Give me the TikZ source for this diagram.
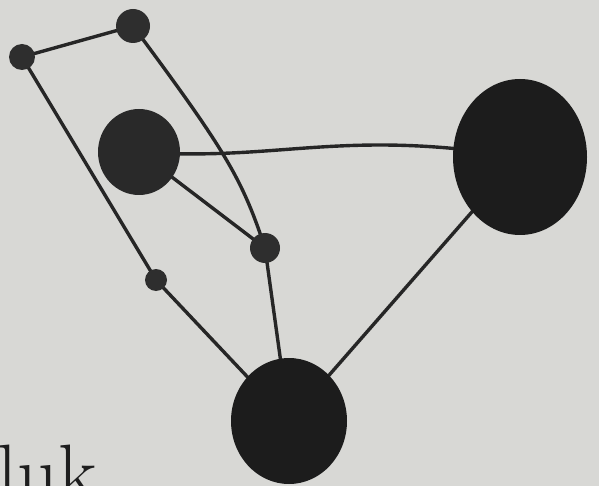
\documentclass[tikz,border=0pt]{standalone}
\usetikzlibrary{shapes.geometric}
\pgfdeclarelayer{paperlayer}
\pgfdeclarelayer{edgelayer}
\pgfsetlayers{paperlayer,edgelayer,main}
\definecolor{paper}{HTML}{D8D8D5}
\definecolor{nodegray}{HTML}{2E2E2E}
\definecolor{darknode}{HTML}{1C1C1C}
\definecolor{linegray}{HTML}{262626}
\definecolor{inkgray}{HTML}{1E1E1E}
\begin{document}
\begin{tikzpicture}[x=1pt,y=-1pt,
  vertex/.style={ellipse,fill=nodegray,inner sep=0pt,draw=none},
  bigvertex/.style={vertex,fill=darknode},
  edge/.style={line width=3.4pt,draw=linegray,line cap=round}]
\useasboundingbox (0,0) rectangle (599,486);
\clip (0,0) rectangle (599,486);
\begin{pgfonlayer}{paperlayer}
\fill[paper] (0,0) rectangle (599,486);
\end{pgfonlayer}
% nodes
\node[vertex,minimum width=26pt,minimum height=26pt] (A) at (22,57) {};
\node[vertex,minimum width=34pt,minimum height=34pt] (B) at (133,26) {};
\node[vertex,minimum width=82pt,minimum height=86pt,fill=nodegray!90!black] (C) at (139,152) {};
\node[vertex,minimum width=30pt,minimum height=30pt] (D) at (265,248) {};
\node[vertex,minimum width=22pt,minimum height=22pt] (E) at (156,280) {};
\node[bigvertex,minimum width=134pt,minimum height=156pt] (F) at (520,157) {};
\node[bigvertex,minimum width=116pt,minimum height=126pt] (G) at (289,421) {};
% edges
\begin{pgfonlayer}{edgelayer}
\path[edge] (A.center) -- (B.center);
\path[edge] (A.center) -- (E.center);
\path[edge] (E.center) -- (G.center);
\path[edge] (B.center) .. controls (225,150) and (242,178) .. (D.center);
\path[edge] (C.center) .. controls (280,162) and (340,128) .. (F.center);
\path[edge] (C.center) -- (D.center);
\path[edge] (D.center) -- (G.center);
\path[edge] (F.center) -- (G.center);
\end{pgfonlayer}
% text
\node[anchor=base west,inner sep=0pt,text=inkgray,font=\fontsize{80}{80}\selectfont] (T) at (-3,500) {luk};
\end{tikzpicture}
\end{document}
